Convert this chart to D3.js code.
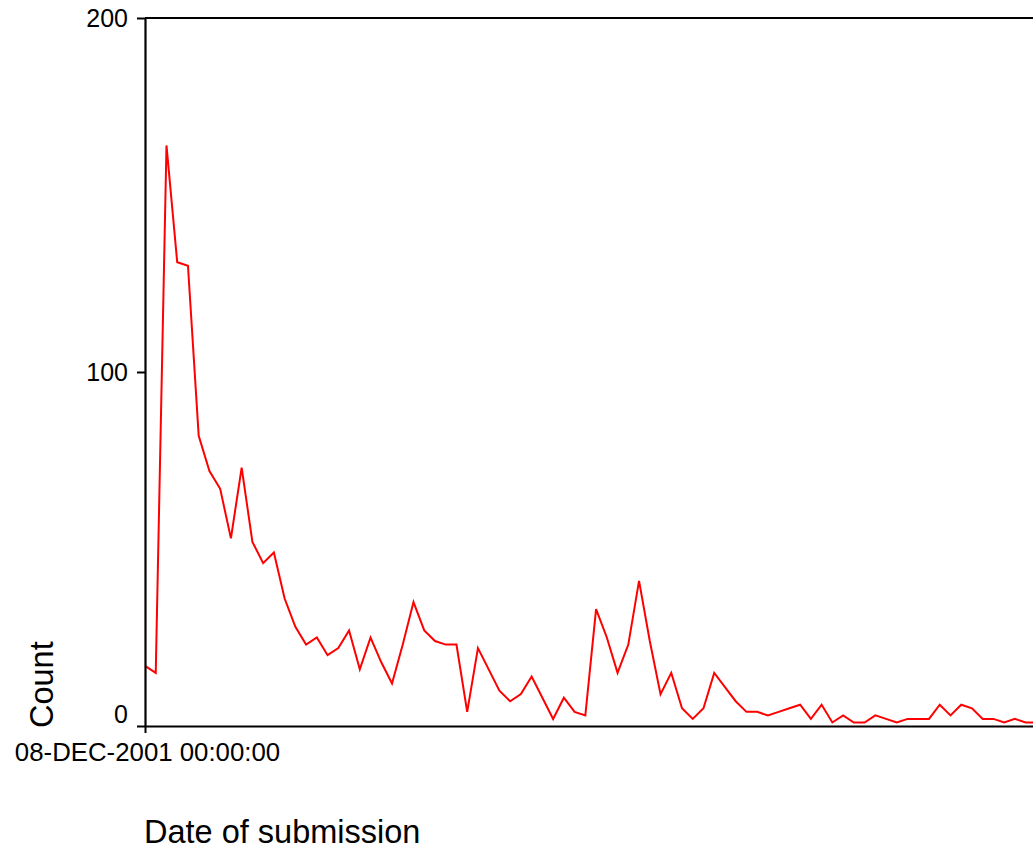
<!DOCTYPE html>
<html>
<head>
<meta charset="utf-8">
<script src="https://cdn.jsdelivr.net/npm/d3@7"></script>
<style>
  html, body { margin: 0; padding: 0; background: #fff; }
  svg { display: block; font-family: "Liberation Sans", Arial, sans-serif; }
</style>
</head>
<body>
<svg id="chart" width="1033" height="850"></svg>
<script>
// Daily submission counts, starting 08-DEC-2001
const startDate = new Date(2001, 11, 8, 0, 0, 0);
const counts = [
  17, 15, 164, 131, 130, 82, 72, 67, 53, 73,
  52, 46, 49, 36, 28, 23, 25, 20, 22, 27,
  16, 25, 18, 12, 23, 35, 27, 24, 23, 23,
  4, 22, 16, 10, 7, 9, 14, 8, 2, 8,
  4, 3, 33, 25, 15, 23, 41, 24, 9, 15,
  5, 2, 5, 15, 11, 7, 4, 4, 3, 4,
  5, 6, 2, 6, 1, 3, 1, 1, 3, 2,
  1, 2, 2, 2, 6, 3, 6, 5, 2, 2,
  1, 2, 1, 1
];
const yTicks = [0, 100, 200];
const xTicks = [startDate];
const xTitle = "Date of submission";
const yTitle = "Count";

const data = counts.map((v, i) => ({ date: d3.timeDay.offset(startDate, i), value: v }));

const svg = d3.select("#chart");
const plotLeft = 145, plotTop = 18, plotBottom = 726;
const dayPx = 10.74;
const nDays = counts.length;

const x = d3.scaleTime()
  .domain([startDate, d3.timeDay.offset(startDate, nDays)])
  .range([plotLeft, plotLeft + nDays * dayPx]);
const y = d3.scaleLinear().domain([0, 200]).range([plotBottom, plotTop]);

// top frame line
svg.append("line")
  .attr("x1", plotLeft).attr("x2", x.range()[1])
  .attr("y1", y(200)).attr("y2", y(200))
  .attr("stroke", "#000").attr("stroke-width", 2);

// series line
svg.append("path")
  .datum(data)
  .attr("fill", "none")
  .attr("stroke", "#ff0000")
  .attr("stroke-width", 2)
  .attr("stroke-linejoin", "miter")
  .attr("d", d3.line().x(d => x(d.date)).y(d => y(d.value)));

// axes
const fmt = d3.timeFormat("%d-%b-%Y %H:%M:%S");
const xAxis = svg.append("g")
  .attr("transform", `translate(0,${plotBottom})`)
  .call(d3.axisBottom(x).tickValues(xTicks).tickFormat(d => fmt(d).toUpperCase())
    .tickSize(7).tickSizeOuter(0).tickPadding(10));

const yAxis = svg.append("g")
  .attr("transform", `translate(${plotLeft},0)`)
  .call(d3.axisLeft(y).tickValues(yTicks).tickFormat(d3.format("d"))
    .tickSize(8).tickSizeOuter(0).tickPadding(9));

[xAxis, yAxis].forEach(g => {
  g.select(".domain").attr("stroke", "#000").attr("stroke-width", 2.2);
  g.selectAll(".tick line").attr("stroke", "#000").attr("stroke-width", 2);
  g.selectAll(".tick text")
    .attr("fill", "#000")
    .style("font-family", "'Liberation Sans', Arial, sans-serif")
    .style("font-size", "25px");
});
xAxis.selectAll(".tick text").style("font-size", "25.8px").attr("dx", "2");

// lift the zero label above the horizontal axis
yAxis.selectAll(".tick").filter(d => d === 0).select("text").attr("dy", "-0.16em");

// axis titles
svg.append("text")
  .attr("x", plotLeft - 1).attr("y", 843)
  .attr("font-size", 32.5)
  .attr("fill", "#000")
  .text(xTitle);

svg.append("text")
  .attr("transform", "translate(53,728) rotate(-90)")
  .attr("font-size", 32.5)
  .attr("fill", "#000")
  .text(yTitle);
</script>
</body>
</html>
